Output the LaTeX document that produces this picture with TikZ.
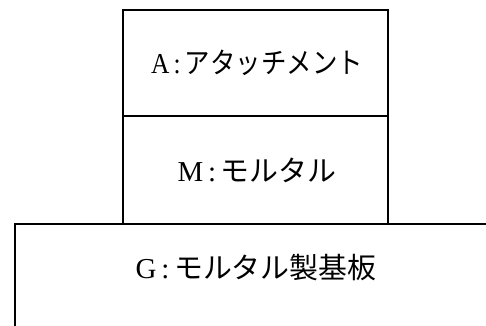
\documentclass[tikz,border=0pt]{standalone}
\usepackage{fontspec}
\setmainfont{Liberation Serif}
\newfontfamily\jp{Noto Sans CJK JP}
\begin{document}
\begin{tikzpicture}[x=1bp,y=1bp,
  layer/.style={draw=black, line width=1.8pt, minimum width=265bp, inner sep=0pt},
  lbl/.style={font=\fontsize{29}{34}\selectfont},
  edge/.style={draw=black, line width=1.8pt}]
\useasboundingbox (0,0) rectangle (486,-325);
\node[layer, minimum height=106bp] (A) at (255.5,-63) {};
\node[layer, minimum height=108bp] (M) at (255.5,-170) {};
\node[lbl] (At) at (257,-63) {\scalebox{0.88}[1]{A\,:\,{\jp アタッチメント}}};
\node[lbl] (Mt) at (257,-170) {M\,:\,{\jp モルタル}};
\node[lbl] (Gt) at (256,-268) {G\,:\,{\jp モルタル製基板}};
\coordinate (gbl) at (15,-326);
\coordinate (gtl) at (15,-224);
\coordinate (gtr) at (487,-224);
\draw[edge] (gbl) -- (gtl) -- (gtr);
\end{tikzpicture}
\end{document}
